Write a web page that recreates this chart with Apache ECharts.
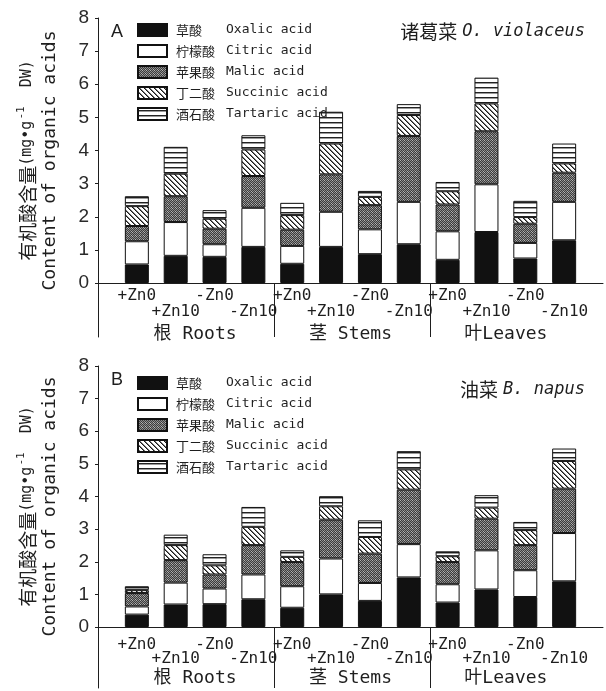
<!DOCTYPE html>
<html><head><meta charset="utf-8">
<script src="https://cdn.jsdelivr.net/npm/echarts@6/dist/echarts.min.js"></script>
<style>html,body{margin:0;padding:0;background:#fff}#c{width:606px;height:691px}</style>
</head><body><div id="c"></div>
<script>
// ---------------- data ----------------
const treatments = ['+Zn0', '+Zn10', '-Zn0', '-Zn10'];
const organs = ['根 Roots', '茎 Stems', '叶Leaves'];
const acidsEn = ['Oxalic acid', 'Citric acid', 'Malic acid', 'Succinic acid', 'Tartaric acid'];
const acidsCn = ['草酸', '柠檬酸', '苹果酸', '丁二酸', '酒石酸'];
const yMin = 0, yMax = 8, yStep = 1;
const speciesA = ['诸葛菜', 'O. violaceus'];
const speciesB = ['油菜', 'B. napus'];

// Panel A (O. violaceus), order: Roots(+Zn0,+Zn10,-Zn0,-Zn10), Stems(...), Leaves(...)
const aOxalic   = [0.56, 0.82, 0.79, 1.09, 0.58, 1.09, 0.87, 1.17, 0.70, 1.54, 0.74, 1.29];
const aCitric   = [0.70, 1.02, 0.38, 1.18, 0.54, 1.06, 0.75, 1.28, 0.86, 1.44, 0.47, 1.16];
const aMalic    = [0.46, 0.78, 0.47, 0.96, 0.49, 1.13, 0.73, 1.99, 0.81, 1.60, 0.58, 0.88];
const aSuccinic = [0.60, 0.68, 0.30, 0.80, 0.44, 0.93, 0.25, 0.63, 0.40, 0.84, 0.20, 0.28];
const aTartaric = [0.30, 0.81, 0.26, 0.43, 0.37, 0.96, 0.18, 0.33, 0.28, 0.78, 0.49, 0.60];

// Panel B (B. napus)
const bOxalic   = [0.38, 0.69, 0.70, 0.85, 0.59, 1.00, 0.80, 1.52, 0.75, 1.15, 0.92, 1.40];
const bCitric   = [0.25, 0.67, 0.48, 0.76, 0.66, 1.10, 0.55, 1.02, 0.56, 1.20, 0.82, 1.48];
const bMalic    = [0.41, 0.69, 0.43, 0.90, 0.74, 1.19, 0.90, 1.67, 0.68, 0.97, 0.77, 1.36];
const bSuccinic = [0.09, 0.46, 0.28, 0.56, 0.16, 0.41, 0.51, 0.62, 0.18, 0.34, 0.46, 0.85];
const bTartaric = [0.12, 0.32, 0.34, 0.61, 0.20, 0.31, 0.51, 0.56, 0.15, 0.38, 0.25, 0.38];

// ---------------- patterns ----------------
function pat(kind) {
  const c = document.createElement('canvas');
  const g = c.getContext('2d');
  if (kind === 'malic') {
    c.width = 4; c.height = 4;
    g.fillStyle = '#3c3c3c'; g.fillRect(0, 0, 4, 4);
    g.fillStyle = '#8c8c8c';
    [[0, 0], [2, 0], [1, 1], [3, 1], [0, 2], [2, 2], [1, 3], [3, 3]].forEach(([x, y]) => g.fillRect(x, y, 1, 1));
    g.fillStyle = '#b4b4b4';
    g.fillRect(0, 0, 1, 1); g.fillRect(3, 3, 1, 1);
  } else if (kind === 'succinic') {
    c.width = 5; c.height = 5;
    g.fillStyle = '#fff'; g.fillRect(0, 0, 5, 5);
    for (let i = 0; i < 5; i++) {
      g.fillStyle = '#1a1a1a'; g.fillRect(i, i, 1, 1);
      g.fillStyle = '#777'; g.fillRect((i + 1) % 5, i, 1, 1);
    }
  } else if (kind === 'tartaric') {
    c.width = 4; c.height = 5;
    g.fillStyle = '#fff'; g.fillRect(0, 0, 4, 5);
    g.fillStyle = '#222'; g.fillRect(0, 2, 4, 1);
    g.fillStyle = '#999'; g.fillRect(0, 3, 4, 1);
  }
  return { image: c, repeat: 'repeat' };
}
const fills = ['#111', '#fff', pat('malic'), pat('succinic'), pat('tartaric')];

// ---------------- build ----------------
const nCat = organs.length * treatments.length;          // 12 bars
const cats = Array.from({ length: nCat + 2 }, (_, i) => 'c' + i); // padded ends
const sepPos = organs.slice(1).map((_, g) => (g + 1) * treatments.length + 0.5);
const groupCenter = {};
organs.forEach((o, g) => { groupCenter[(g * treatments.length + 1 + (g + 1) * treatments.length) / 2] = o; });
const pad = v => [null].concat(v).concat([null]);

const mono = 'DejaVu Sans Mono, Noto Sans CJK SC';
const cjk = 'Noto Sans CJK SC';
const ink = '#1e1e1e';

function panel(p, top, height, auxH, labelMargin, labelLH, species, letter, legTop, dataSets) {
  const gi = p * 2;
  const grids = [
    { left: 98, right: -5, top: top, height: height },
    { left: 98, right: -5, top: top + height, height: auxH }
  ];
  const xAxes = [
    {
      gridIndex: gi, type: 'category', data: cats, boundaryGap: false,
      axisLine: { lineStyle: { color: ink, width: 1 } }, axisTick: { show: false },
      axisLabel: {
        interval: 0, margin: labelMargin, lineHeight: labelLH,
        fontFamily: mono, fontSize: 16, color: ink,
        formatter: (v, i) => {
          if (i === 0 || i === nCat + 1) return '';
          const t = (i - 1) % treatments.length;
          return (t % 2 === 1 ? '\n' : '') + treatments[t];
        }
      }
    },
    {
      gridIndex: gi, type: 'value', min: 0, max: nCat + 1, interval: 0.5, position: 'bottom', offset: 36,
      axisLine: { show: false }, axisTick: { show: false }, splitLine: { show: false },
      axisLabel: { margin: 6, fontFamily: mono, fontSize: 18, color: ink,
        formatter: v => groupCenter[v] || '' }
    },
    { gridIndex: gi + 1, type: 'value', min: 0, max: nCat + 1, show: false }
  ];
  const yAxes = [
    {
      gridIndex: gi, type: 'value', min: yMin, max: yMax, interval: yStep,
      axisLine: { show: true, lineStyle: { color: ink, width: 1 } },
      axisTick: { show: true, length: 3, lineStyle: { color: ink } },
      splitLine: { show: false },
      axisLabel: { margin: 9, fontFamily: 'Liberation Sans', fontSize: 19, color: '#2a2a2a' },
      name: '{cn|有机酸含量}{u|(mg•g}{sup|-1}{u|  DW)}\n{en|Content of organic acids}',
      nameLocation: 'middle', nameRotate: 90, nameGap: 36,
      nameTextStyle: {
        padding: [0, 20, 0, 0],
        rich: {
          cn: { fontFamily: cjk, fontSize: 19, color: ink, lineHeight: 23 },
          u: { fontFamily: mono, fontSize: 15, color: ink, lineHeight: 23 },
          sup: { fontFamily: mono, fontSize: 11, color: ink, lineHeight: 23, verticalAlign: 'top', padding: [0, 1, 0, 1] },
          en: { fontFamily: mono, fontSize: 18, color: ink, lineHeight: 23 }
        }
      }
    },
    {
      gridIndex: gi + 1, type: 'value', min: 0, max: 1,
      axisLine: { show: true, lineStyle: { color: ink, width: 1 } },
      axisTick: { show: false }, axisLabel: { show: false }, splitLine: { show: false }
    }
  ];
  const xa = p * 3, ya = p * 2;
  const series = dataSets.map((d, k) => ({
    type: 'bar', name: acidsEn[k], stack: 'panel' + p,
    xAxisIndex: xa, yAxisIndex: ya, barWidth: 24,
    itemStyle: { color: fills[k], borderColor: '#111', borderWidth: 1 },
    emphasis: { disabled: true },
    data: pad(d)
  }));
  series.push({
    type: 'line', xAxisIndex: xa + 2, yAxisIndex: ya + 1, data: [[0, 0.5]], showSymbol: false,
    lineStyle: { opacity: 0 }, silent: true,
    markLine: { silent: true, symbol: ['none', 'none'], label: { show: false },
      lineStyle: { color: ink, width: 1, type: 'solid' },
      data: sepPos.map(x => ({ xAxis: x })) }
  });
  const titles = [
    { text: letter, left: 111, top: top + 5, padding: 0,
      textStyle: { fontFamily: 'Liberation Sans', fontSize: 18, fontWeight: 'normal', color: ink } },
    { text: '{cn|' + species[0] + '} {en|' + species[1] + '}', right: 21, top: top + 4 + (p ? 10 : 0), padding: 0,
      textStyle: { fontWeight: 'normal', rich: {
        cn: { fontFamily: cjk, fontSize: 19, fontWeight: 'normal', color: ink },
        en: { fontFamily: mono, fontStyle: 'italic', fontWeight: 'normal', fontSize: 17, color: ink } } } }
  ];
  const legend = {
    left: 137, top: legTop, orient: 'vertical', itemWidth: 29, itemHeight: 12, itemGap: 7,
    icon: 'rect', selectedMode: false, padding: 0, data: acidsEn,
    formatter: n => '{cn|' + acidsCn[acidsEn.indexOf(n)] + '}{en|' + n + '}',
    textStyle: { rich: {
      cn: { fontFamily: cjk, fontSize: 13, color: ink, width: 50, padding: [0, 0, 0, 4], lineHeight: 12 },
      en: { fontFamily: mono, fontSize: 13, color: ink, lineHeight: 12 } } }
  };
  return { grids, xAxes, yAxes, series, titles, legend };
}

const PA = panel(0, 18, 265, 54, 5, 16, speciesA, 'A', 23,
  [aOxalic, aCitric, aMalic, aSuccinic, aTartaric]);
const PB = panel(1, 366, 261, 61, 11, 14, speciesB, 'B', 376,
  [bOxalic, bCitric, bMalic, bSuccinic, bTartaric]);

const chart = echarts.init(document.getElementById('c'), null, { renderer: 'canvas' });
chart.setOption({
  backgroundColor: '#ffffff',
  animation: false,
  title: PA.titles.concat(PB.titles),
  legend: [PA.legend, PB.legend],
  grid: PA.grids.concat(PB.grids),
  xAxis: PA.xAxes.concat(PB.xAxes),
  yAxis: PA.yAxes.concat(PB.yAxes),
  series: PA.series.concat(PB.series)
});
</script></body></html>
